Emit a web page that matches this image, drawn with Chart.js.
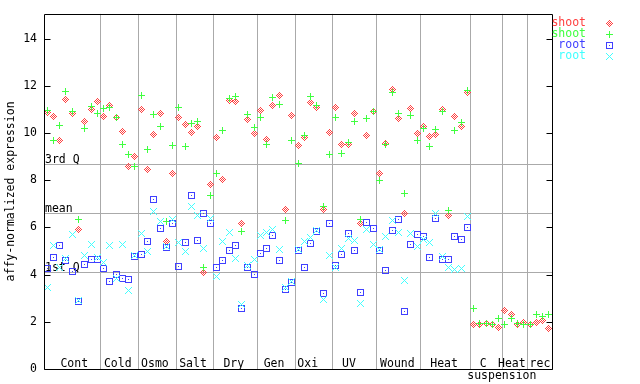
<!DOCTYPE html>
<html><head><meta charset="utf-8">
<script src="https://cdn.jsdelivr.net/npm/chart.js@4/dist/chart.umd.min.js"></script>
<style>html,body{margin:0;padding:0;background:#fff;}canvas{display:block;}</style>
</head><body>
<canvas id="c" width="640" height="384"></canvas>
<script>
// ---------------- data ----------------
const groupNames = ['Cont','Cold','Osmo','Salt','Dry','Gen','Oxi','UV','Wound','Heat','C','Heat','rec'];
const groupSizes = [9,6,6,6,7,6,6,7,7,8,5,4,4];
const subLabel = 'suspension';
const seriesNames = ['shoot','shoot','root','root'];
const yTicks = [0,2,4,6,8,10,12,14];
const refValues = [8.70, 6.63, 4.09];
const refNames = ['3rd Q','mean','1st Q'];
const yTitle = 'affy-normalized expression';

const shootRed = [10.86,10.70,9.67,11.41,10.82,5.91,10.48,10.98,11.32,
  10.69,11.15,10.64,10.05,8.57,9.00,
  10.98,8.45,9.93,10.82,5.40,8.28,
  10.64,10.35,10.01,10.27,4.09,7.81,
  9.80,8.02,11.37,11.32,6.16,10.56,9.97,
  10.94,9.72,11.15,11.58,6.75,10.73,
  9.46,9.80,11.28,11.07,6.75,10.01,
  11.07,9.50,9.50,10.82,6.16,9.89,10.90,
  8.28,9.55,11.83,10.60,6.59,11.03,9.97,
  10.27,9.84,9.93,10.98,6.50,10.69,10.27,11.70,
  1.89,1.89,1.93,1.89,1.76,
  2.48,2.31,1.89,1.98,
  1.89,1.98,2.06,1.72];
const shootGreen = [10.96,9.69,10.32,11.75,10.90,6.33,10.18,11.11,10.82,
  11.03,11.07,10.64,9.50,9.08,8.57,
  11.58,9.29,10.77,10.27,6.25,9.46,
  11.07,9.42,10.39,10.48,4.30,7.35,
  8.28,10.10,11.45,11.53,5.82,10.77,10.22,
  10.64,9.50,11.49,11.20,6.29,9.67,
  8.70,9.89,11.53,11.15,6.88,9.08,
  10.64,9.12,9.59,10.48,6.33,10.60,10.90,
  7.98,9.50,11.70,10.82,7.43,10.73,9.67,
  10.18,9.42,10.14,10.90,6.71,10.10,10.44,11.79,
  2.57,1.93,1.93,1.89,2.14,
  1.89,2.14,1.93,1.89,
  1.89,2.31,2.23,2.31];
const rootBlue = [4.26,4.72,5.23,4.60,4.13,2.85,4.43,4.64,4.64,
  4.26,3.71,4.00,3.84,3.79,4.78,
  4.85,5.40,7.18,5.95,5.15,6.16,
  4.34,5.36,7.35,5.44,6.59,6.16,
  4.30,4.60,5.02,5.23,2.57,4.30,4.00,
  4.89,5.10,5.65,4.60,3.37,3.67,
  5.02,4.30,5.32,5.82,3.20,6.16,
  4.39,4.85,5.74,5.02,3.24,6.21,5.95,
  5.02,4.17,5.87,6.33,2.44,5.27,5.70,
  5.61,4.72,6.37,4.64,4.64,5.61,5.49,5.99,
  null,null,null,null,null,
  null,null,null,null,
  null,null,null,null];
const rootCyan = [3.45,5.23,4.30,4.68,5.70,2.90,4.81,5.27,4.72,
  4.51,5.23,3.84,5.27,3.33,4.80,
  5.74,4.98,6.67,6.25,5.20,6.33,
  5.36,4.98,6.88,6.50,5.10,6.37,
  3.92,5.40,5.78,4.68,2.74,4.39,4.64,
  5.65,5.78,5.91,5.06,3.45,3.70,
  5.05,5.40,5.57,5.85,2.95,4.81,
  4.30,5.10,5.53,5.44,2.78,5.91,5.27,
  5.05,5.61,6.29,5.78,3.75,5.74,5.19,
  5.49,5.36,6.59,4.77,4.30,4.22,4.26,6.46,
  null,null,null,null,null,
  null,null,null,null,
  null,null,null,null];

// ---------------- styling / layout ----------------
const FONT = "11.5px 'DejaVu Sans Mono', monospace";
const colors = ['#ff4040','#40ff40','#4040ff','#40ffff'];
const gridColor = '#aaaaaa';
const labelShiftPx = [2,-1.5,-2,-1.5,-1.5,-2,-6,-5.5,-1,-1.3,-3,-2.5,0.5];

function mk(color, fn){
  const c=document.createElement('canvas'); c.width=7; c.height=7;
  const g=c.getContext('2d'); g.fillStyle=color;
  const p=(x,y)=>g.fillRect(x+3,y+3,1,1);
  fn(p); return c;
}
const imgs = [
  mk(colors[0], p=>{for(let dx=-3;dx<=3;dx++)for(let dy=-3;dy<=3;dy++){const s=Math.abs(dx)+Math.abs(dy);if(s===3||s===1)p(dx,dy);}}),
  mk(colors[1], p=>{for(let k=-3;k<=3;k++){p(k,0);p(0,k);}}),
  mk(colors[2], p=>{for(let k=-3;k<=3;k++){p(k,-3);p(k,3);p(-3,k);p(3,k);}p(0,0);}),
  mk(colors[3], p=>{for(let k=-3;k<=3;k++){p(k,k);p(k,-k);}})
];

const total = groupSizes.reduce((a,b)=>a+b,0);
function toPts(vals){return vals.map((v,i)=>v==null?null:{x:i,y:v}).filter(Boolean);}
const allSeries=[shootRed,shootGreen,rootBlue,rootCyan];
const datasets = allSeries.map((vals,k)=>({
  label: seriesNames[k], data: toPts(vals), pointStyle: imgs[k], pointRadius:3.5,
  borderColor: colors[k], backgroundColor: colors[k], showLine:false, order: 4-k
}));

const deco = {
  id:'deco',
  beforeDatasetsDraw(chart){
    const {ctx, chartArea:a, scales:{x,y}} = chart;
    ctx.save();
    ctx.strokeStyle=gridColor; ctx.lineWidth=1;
    let acc=0; const starts=[];
    groupSizes.forEach((n,gi)=>{starts.push(acc); acc+=n;
      if(gi<groupSizes.length-1){
        const X=Math.round(x.getPixelForValue(acc-0.5))+0.5;
        ctx.beginPath(); ctx.moveTo(X,a.top); ctx.lineTo(X,a.bottom); ctx.stroke();
      }});
    ctx.font=FONT; ctx.fillStyle='#000'; ctx.textBaseline='alphabetic';
    refValues.forEach((v,i)=>{
      const Y=Math.round(y.getPixelForValue(v))+0.5;
      ctx.beginPath(); ctx.moveTo(a.left,Y); ctx.lineTo(a.right,Y); ctx.stroke();
      ctx.textAlign='left'; ctx.fillText(refNames[i], a.left+1, Y-1.5);
    });
    ctx.textAlign='center';
    groupNames.forEach((nm,gi)=>{
      const c=(x.getPixelForValue(starts[gi]-0.5)+x.getPixelForValue(starts[gi]+groupSizes[gi]-0.5))/2;
      ctx.fillText(nm, c+labelShiftPx[gi], a.bottom-2);
    });
    const sx=x.getPixelForValue(starts[11]-0.5);
    ctx.fillText(subLabel, sx, a.bottom+10);
    ctx.restore();
    ctx.imageSmoothingEnabled=false;
  },
  beforeDatasetDraw(chart, args){
    chart.ctx.imageSmoothingEnabled=false;
    // snap the library-computed point centres to pixel centres for crisp bitmap markers
    args.meta.data.forEach(el=>{ el.x=Math.floor(el.x)+0.5; el.y=Math.floor(el.y)+0.5; });
  },
  afterDatasetsDraw(chart){
    const {ctx, chartArea:a, scales:{y}} = chart;
    ctx.save();
    ctx.strokeStyle='#000'; ctx.lineWidth=1;
    const L=Math.round(a.left)+0.5, R=Math.round(a.right)+0.5, T=Math.round(a.top)+0.5, B=Math.round(a.bottom)+0.5;
    ctx.beginPath(); ctx.rect(L,T,R-L,B-T); ctx.stroke();
    yTicks.forEach(v=>{
      const Y=Math.round(y.getPixelForValue(v))+0.5;
      ctx.beginPath(); ctx.moveTo(L,Y); ctx.lineTo(L+6,Y); ctx.moveTo(R-6,Y); ctx.lineTo(R,Y); ctx.stroke();
    });
    ctx.font=FONT; ctx.textAlign='right'; ctx.textBaseline='middle';
    ctx.imageSmoothingEnabled=false;
    seriesNames.forEach((nm,k)=>{
      const yy=23.5+k*11;
      ctx.fillStyle=colors[k]; ctx.fillText(nm, 586, yy);
      ctx.drawImage(imgs[k], 606, Math.round(yy-3.5));
    });
    ctx.restore();
  }
};

new Chart(document.getElementById('c'), {
  type:'scatter',
  data:{datasets},
  options:{
    responsive:false, animation:false, devicePixelRatio:1,
    layout:{padding:{left:0,right:88,top:13,bottom:15}},
    plugins:{legend:{display:false}, tooltip:{enabled:false}},
    scales:{
      x:{type:'linear', min:-0.5, max:total-0.5, display:false},
      y:{type:'linear', min:0, max:15.05,
        afterFit(s){s.width=44;},
        ticks:{stepSize:2, includeBounds:false, color:'#000', padding:7,
          font:{family:"'DejaVu Sans Mono', monospace", size:11.5}},
        grid:{display:false, drawTicks:false},
        border:{display:false},
        title:{display:true, text:yTitle, color:'#000', padding:{top:4,bottom:0},
          font:{family:"'DejaVu Sans Mono', monospace", size:11.5}}
      }
    }
  },
  plugins:[deco]
});
</script>
</body></html>
